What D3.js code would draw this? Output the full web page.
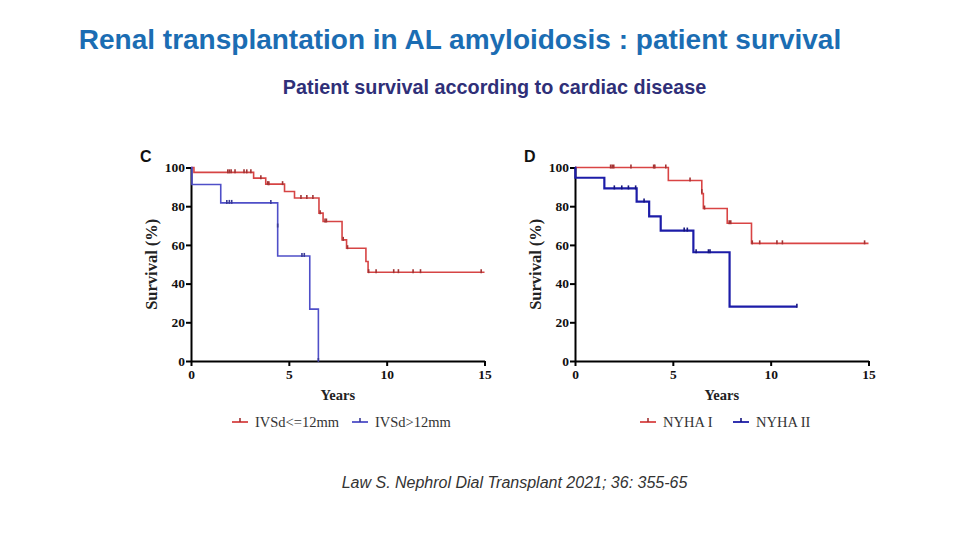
<!DOCTYPE html>
<html>
<head>
<meta charset="utf-8">
<script src="https://cdn.jsdelivr.net/npm/d3@7"></script>
<style>
  body { margin: 0; background: #fff; }
  svg { display: block; }
</style>
</head>
<body>
<svg id="chart" width="960" height="540"></svg>
<script>
// Kaplan-Meier steps: [years, survival %]
var ivs_low_steps = [[0,100],[0.15,97.5],[3.2,94.5],[3.82,91.4],[4.78,87.6],[5.29,84.2],[6.54,76.4],[6.75,72.1],[7.72,62.6],[7.95,58.3],[8.94,51.4],[9.05,45.9],[15,45.9]]
var ivs_low_censor = [[1.88,97.5],[1.96,97.5],[2.05,97.5],[2.25,97.5],[2.71,97.5],[2.85,97.5],[3.06,97.5],[3.57,94.5],[3.92,91.4],[3.98,91.4],[4.68,91.4],[5.62,84.2],[5.92,84.2],[6.23,84.2],[6.6,76.4],[6.85,72.1],[6.92,72.1],[7.78,62.6],[8.0,58.3],[9.08,45.9],[9.46,45.9],[10.36,45.9],[10.6,45.9],[11.35,45.9],[11.73,45.9],[14.83,45.9]]
var ivs_high_steps = [[0,100],[0.05,91.2],[1.52,81.7],[4.43,54.3],[6.07,26.8],[6.51,0],[6.51,0]]
var ivs_high_censor = [[1.83,81.7],[1.96,81.7],[2.08,81.7],[4.08,81.7],[4.43,69.5],[5.67,54.3],[5.79,54.3],[6.51,0]]

var nyha1_steps = [[0,100],[4.77,93.3],[6.48,86.5],[6.56,78.8],[7.78,71.2],[9.02,60.8],[15,60.8]]
var nyha1_censor = [[1.82,100],[1.9,100],[1.98,100],[2.86,100],[4.02,100],[4.08,100],[4.64,100],[5.88,93.3],[6.48,87.3],[6.62,78.8],[7.88,71.2],[7.96,71.2],[9.06,60.8],[9.44,60.8],[10.32,60.8],[10.6,60.8],[14.8,60.8]]
var nyha2_steps = [[0,100],[0.02,94.7],[1.5,89.2],[3.15,82.4],[3.79,74.7],[4.38,67.4],[6.05,56.2],[7.9,28.1],[11.34,28.1]]
var nyha2_censor = [[2.01,89.2],[2.39,89.2],[2.73,89.2],[3.1,89.2],[3.53,82.4],[5.58,67.4],[5.74,67.4],[6.19,56.2],[6.82,56.2],[6.9,56.2],[11.34,28.1]]

var x_ticks = [0, 5, 10, 15]
var y_ticks = [0, 20, 40, 60, 80, 100]

var panels = [
  { letter: "C", left: 191, series: [
      { name: "IVSd<=12mm", steps: ivs_low_steps, censor: ivs_low_censor, color: "#d64444", width: 1.6 },
      { name: "IVSd>12mm", steps: ivs_high_steps, censor: ivs_high_censor, color: "#4f4fc8", width: 1.6 }
    ], legend: [232, 352] },
  { letter: "D", left: 575, series: [
      { name: "NYHA I", steps: nyha1_steps, censor: nyha1_censor, color: "#d94444", width: 1.6 },
      { name: "NYHA II", steps: nyha2_steps, censor: nyha2_censor, color: "#1c1ca8", width: 2.2 }
    ], legend: [640, 733] }
]

var svg = d3.select("#chart")

// titles
svg.append("text")
  .attr("x", 460).attr("y", 49)
  .attr("text-anchor", "middle")
  .style("font-family", "Liberation Sans, Arial, sans-serif")
  .style("font-weight", "bold")
  .style("font-size", "28px")
  .style("fill", "#1b6db3")
  .text("Renal transplantation in AL amyloidosis : patient survival")

svg.append("text")
  .attr("x", 494.5).attr("y", 94)
  .attr("text-anchor", "middle")
  .style("font-family", "Liberation Sans, Arial, sans-serif")
  .style("font-weight", "bold")
  .style("font-size", "19.8px")
  .style("fill", "#2f2f78")
  .text("Patient survival according to cardiac disease")

svg.append("text")
  .attr("x", 514.5).attr("y", 488)
  .attr("text-anchor", "middle")
  .style("font-family", "Liberation Sans, Arial, sans-serif")
  .style("font-style", "italic")
  .style("font-size", "16px")
  .style("fill", "#333")
  .text("Law S. Nephrol Dial Transplant 2021; 36: 355-65")

panels.forEach(function(p) {

  var x = d3.scaleLinear().domain([0, 15]).range([p.left, p.left + 293.5])
  var y = d3.scaleLinear().domain([0, 100]).range([361, 167.5])

  var g = svg.append("g")

  // axes
  var xAxis = g.append("g")
    .attr("transform", "translate(0,361)")
    .call(d3.axisBottom(x).tickValues(x_ticks).tickSize(5).tickSizeOuter(0).tickPadding(3))
  var yAxis = g.append("g")
    .attr("transform", "translate(" + p.left + ",0)")
    .call(d3.axisLeft(y).tickValues(y_ticks).tickSize(5).tickSizeOuter(0).tickPadding(1))

  ;[xAxis, yAxis].forEach(function(a) {
    a.select(".domain").style("stroke", "#000").style("stroke-width", 2)
    a.selectAll(".tick line").style("stroke", "#000").style("stroke-width", 2)
    a.selectAll(".tick text")
      .style("font-family", "Liberation Serif, Times New Roman, serif")
      .style("font-weight", "bold")
      .style("font-size", "13.5px")
      .style("fill", "#111")
  })

  // axis titles
  g.append("text")
    .attr("x", x(7.5)).attr("y", 400)
    .attr("text-anchor", "middle")
    .style("font-family", "Liberation Serif, Times New Roman, serif")
    .style("font-weight", "bold")
    .style("font-size", "14.5px")
    .style("fill", "#222")
    .text("Years")

  g.append("text")
    .attr("transform", "translate(" + (p.left - 34) + "," + y(50) + ") rotate(-90)")
    .attr("text-anchor", "middle")
    .style("font-family", "Liberation Serif, Times New Roman, serif")
    .style("font-weight", "bold")
    .style("font-size", "16.5px")
    .style("fill", "#222")
    .text("Survival (%)")

  g.append("text")
    .attr("x", p.left - 51).attr("y", 162)
    .style("font-family", "Liberation Sans, Arial, sans-serif")
    .style("font-weight", "bold")
    .style("font-size", "16px")
    .style("fill", "#111")
    .text(p.letter)

  var line = d3.line()
    .x(function(d){ return x(d[0]); })
    .y(function(d){ return y(d[1]); })
    .curve(d3.curveStepAfter)

  p.series.forEach(function(s, i) {
    g.append("path")
      .datum(s.steps)
      .attr("d", line)
      .style("fill", "none")
      .style("stroke", s.color)
      .style("stroke-width", s.width)

    g.selectAll(".cens" + i).data(s.censor).enter().append("line")
      .attr("class", "cens" + i)
      .attr("x1", function(d){ return x(d[0]); })
      .attr("x2", function(d){ return x(d[0]); })
      .attr("y1", function(d){ return y(d[1]) - 3; })
      .attr("y2", function(d){ return y(d[1]) + 1; })
      .style("stroke", d3.color(s.color).darker(0.8))
      .style("stroke-width", 1.6)

    // legend
    var lx = p.legend[i]
    g.append("line")
      .attr("x1", lx).attr("x2", lx + 16)
      .attr("y1", 422).attr("y2", 422)
      .style("stroke", s.color).style("stroke-width", 1.8)
    g.append("line")
      .attr("x1", lx + 8).attr("x2", lx + 8)
      .attr("y1", 418).attr("y2", 422)
      .style("stroke", d3.color(s.color).darker(0.8)).style("stroke-width", 1.6)
    g.append("text")
      .attr("x", lx + 23).attr("y", 427)
      .style("font-family", "Liberation Serif, Times New Roman, serif")
      .style("font-size", "14.5px")
      .style("fill", "#333")
      .text(s.name)
  })
})
</script>
</body>
</html>
